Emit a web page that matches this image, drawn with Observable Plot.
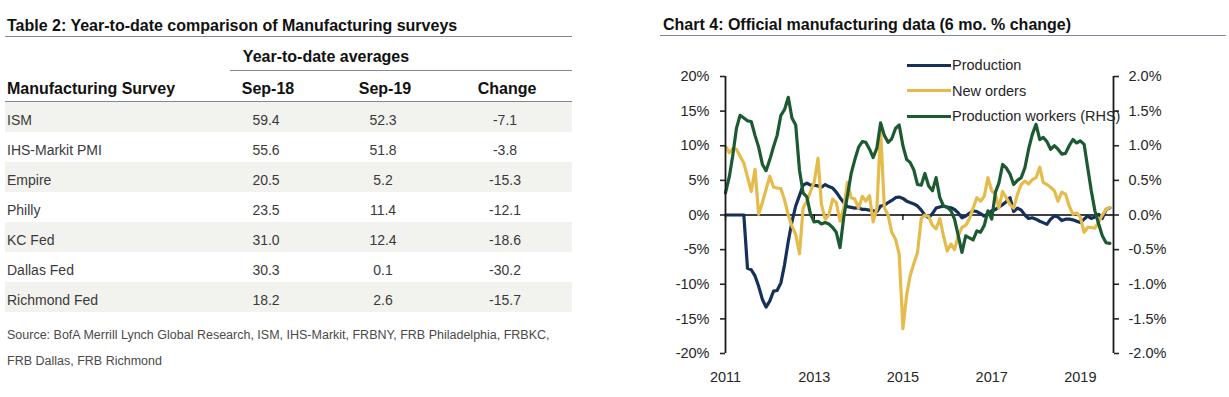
<!DOCTYPE html>
<html><head><meta charset="utf-8">
<script src="https://cdn.jsdelivr.net/npm/d3@7"></script>
<script src="https://cdn.jsdelivr.net/npm/@observablehq/plot@0.6"></script>
<style>
html,body{margin:0;padding:0;background:#fff}
#page{position:relative;width:1229px;height:397px;overflow:hidden;font-family:"Liberation Sans",Arial,sans-serif}
.abs{position:absolute;white-space:nowrap}
#chart{position:absolute;left:655px;top:40px}
</style></head><body>
<div id="page"><div id="chart"></div></div>
<script>
// ---------- Table data ----------
const tableTitle = "Table 2: Year-to-date comparison of Manufacturing surveys";
const groupHeader = "Year-to-date averages";
const columnHeaders = ["Manufacturing Survey", "Sep-18", "Sep-19", "Change"];
const surveys = ["ISM", "IHS-Markit PMI", "Empire", "Philly", "KC Fed", "Dallas Fed", "Richmond Fed"];
const sep18 = [59.4, 55.6, 20.5, 23.5, 31.0, 30.3, 18.2];
const sep19 = [52.3, 51.8, 5.2, 11.4, 12.4, 0.1, 2.6];
const change = [-7.1, -3.8, -15.3, -12.1, -18.6, -30.2, -15.7];
const sourceLines = [
  "Source: BofA Merrill Lynch Global Research, ISM, IHS-Markit, FRBNY, FRB Philadelphia, FRBKC,",
  "FRB Dallas, FRB Richmond"
];

// ---------- Chart data (monthly, Jan 2011 onward, 6 mo. % change) ----------
const chartTitle = "Chart 4: Official manufacturing data (6 mo. % change)";
const startMonth = "2011-01-01";
const seriesNames = ["Production", "New orders", "Production workers (RHS)"];
const production = [
  0, 0, 0, 0, 0, 0, -7.7, -7.9, -8.8, -10.3, -12.2, -13.3, -12.4, -11.0, -10.9, -9.8, -7.2, -3.8, -1.0, 1.3,
  2.8, 4.3, 4.6, 4.3, 4.3, 4.2, 4.0, 4.4, 4.1, 3.9, 3.3, 2.5, 1.8, 1.2, 1.1, 1.0, 1.05, 0.8, 0.8, 0.7,
  0.6, 0.5, 1.3, 1.4, 1.8, 2.1, 2.5, 2.6, 2.4, 2.0, 1.8, 1.6, 1.3, 0.7, 0.0, -0.4, 0.2, 1.0, 1.15, 1.3,
  1.15, 1.05, 0.8, 0.3, -0.4, -0.15, 0.25, 0.6, 0.5, 0.2, -0.15, 0.2, 0.6, 0.8, 1.15, 1.5, 1.9, 2.5, 0.5, 1.0,
  0.7, 0.0, -0.5, -0.4, -0.6, -0.9, -1.1, -1.35, -0.6, -0.15, -0.3, -0.8, -0.6, -0.6, -0.7, -0.9, -1.1, -0.6, -0.15, -0.5,
  -0.3, 0.1, -0.5, 0.8, 1.05
];
const newOrders = [
  9.9, 9.0, 9.6, 9.5, 8.5, 7.5, 5.5, 3.4, 6.6, 0.1, 1.8, 3.7, 5.6, 4.0, 3.9, 3.8, 2.2, 0.0, -1.6, -2.8,
  -5.6, 1.0, 2.0, 3.4, 4.8, 8.2, 1.5, -0.6, 0.0, 2.3, 1.8, -0.9, 1.0, 4.7, 2.5, 2.3, 1.0, 2.7, 2.0, 2.8,
  -1.0, 1.0, 12.3, 1.0, 0.0, -2.5, -3.5, -5.6, -16.4, -11.5, -8.8, -7.0, -5.4, -0.5, 0.0, -0.2, -1.5, -2.0, -0.5, -3.0,
  -5.2, -4.2, -5.0, -3.0, -1.8, -1.5, -0.6, 1.0, 2.5, 2.0, 2.7, 5.4, 3.5, 3.0, 1.0, 3.4, 2.5, 1.5, 1.0, 3.0,
  4.4, 4.9, 4.5, 5.1, 5.4, 6.9, 4.7, 4.4, 4.0, 3.5, 2.0, 3.3, 3.0, 1.3, 0.1, 0.3, -0.3, -2.5, -1.8, -1.8,
  -1.9, -1.0, 0.0, 0.8, 1.1
];
// right-hand scale, in %
const productionWorkers = [
  0.32, 0.55, 0.85, 1.25, 1.44, 1.40, 1.36, 1.35, 1.15, 0.98, 0.73, 0.64, 0.80, 0.99, 1.15, 1.44, 1.52, 1.70, 1.40, 1.30,
  0.65, 0.32, 0.26, 0.01, -0.10, -0.09, -0.13, -0.11, -0.13, -0.18, -0.25, -0.47, -0.03, 0.28, 0.60, 0.80, 0.98, 1.06, 1.05, 0.95,
  0.83, 0.97, 1.33, 1.15, 1.05, 1.10, 1.25, 1.30, 1.00, 0.80, 0.76, 0.65, 0.44, 0.43, 0.60, 0.42, 0.35, 0.54, 0.25, 0.13,
  0.11, 0.06, -0.06, -0.30, -0.54, -0.30, -0.33, -0.36, -0.23, -0.25, -0.15, 0.06, -0.06, 0.33, 0.46, 0.73, 0.68, 0.59, 0.44, 0.50,
  0.54, 0.68, 0.95, 1.16, 1.31, 1.09, 1.12, 1.06, 0.95, 1.00, 0.95, 0.88, 0.89, 1.00, 1.09, 1.04, 1.07, 1.02, 0.70, 0.35,
  0.06, -0.13, -0.30, -0.40, -0.41
];
const leftTicks = [-20, -15, -10, -5, 0, 5, 10, 15, 20];
const rhsFactor = 10; // RHS axis: -2.0% .. 2.0%
const yearLabels = [2011, 2013, 2015, 2017, 2019];

const colors = {production: "#15305b", orders: "#e5bb4c", workers: "#1c5a32"};

// ---------- helpers ----------
const page = document.getElementById("page");
function label(text, o) {
  const el = document.createElement("div");
  el.className = "abs";
  el.textContent = text;
  const h = 22;
  el.style.top = (o.cy - h / 2) + "px";
  el.style.height = h + "px";
  el.style.lineHeight = h + "px";
  el.style.fontSize = o.size + "px";
  el.style.fontWeight = o.bold ? "bold" : "normal";
  el.style.color = o.color || "#111";
  if (o.cx != null) {
    el.style.left = (o.cx - 150) + "px"; el.style.width = "300px"; el.style.textAlign = "center";
  } else el.style.left = o.x + "px";
  page.appendChild(el);
  return el;
}
function box(x, y, w, h, color) {
  const el = document.createElement("div");
  el.className = "abs";
  Object.assign(el.style, {left: x + "px", top: y + "px", width: w + "px", height: h + "px", background: color});
  page.appendChild(el);
  return el;
}

// ---------- Table ----------
const ruleColor = "#7d8995";
label(tableTitle, {x: 7, cy: 26, size: 16, bold: true});
box(5, 36, 567, 1, ruleColor);
label(groupHeader, {cx: 326, cy: 57, size: 16, bold: true});
box(230, 70, 342, 1, ruleColor);
const colCenters = [268, 385, 507];
label(columnHeaders[0], {x: 7, cy: 88.5, size: 16, bold: true});
columnHeaders.slice(1).forEach((h, j) => label(h, {cx: colCenters[j], cy: 88.5, size: 16, bold: true}));
box(5, 101, 567, 1, ruleColor);
surveys.forEach((s, i) => {
  if (i % 2 === 0) box(5, 102 + 30 * i, 567, 30, "#f2f2ef");
  const cy = 119.5 + 30 * i;
  const c = "#3a3a3a";
  label(s, {x: 7, cy, size: 14, color: c});
  [sep18[i], sep19[i], change[i]].forEach((v, j) => label(v.toFixed(1), {cx: colCenters[j] - 2, cy, size: 14, color: c}));
});
sourceLines.forEach((t, k) => label(t, {x: 7, cy: 335 + 26 * k, size: 12.5, color: "#4a4a4a"}));

// ---------- Chart ----------
label(chartTitle, {x: 663, cy: 25, size: 16, bold: true});
box(660, 35, 566, 1, ruleColor);

const start = new Date(startMonth);
const rows = production.map((p, i) => ({
  date: d3.utcMonth.offset(start, i),
  production: p,
  orders: newOrders[i],
  workers: productionWorkers[i]
}));
const xEnd = d3.utcMonth.offset(start, production.length);
const yMin = d3.min(leftTicks), yMax = d3.max(leftTicks);
const yearTicks = yearLabels.map(y => new Date(Date.UTC(y, 0, 1)));

const chart = Plot.plot({
  width: 574, height: 357,
  marginLeft: 70, marginRight: 116, marginTop: 36, marginBottom: 44,
  style: {fontFamily: "'Liberation Sans', Arial, sans-serif", fontSize: "14.5px", color: "#262626", background: "transparent", overflow: "visible"},
  x: {type: "utc", domain: [start, xEnd], label: null},
  y: {domain: [yMin, yMax], label: null},
  marks: [
    Plot.ruleY([0], {stroke: "#000", strokeWidth: 1.4}),
    Plot.ruleX(yearTicks, {y1: 0, y2: yMin, insetBottom: 133, stroke: "#000", strokeWidth: 1.3}),
    Plot.lineY(rows, {x: "date", y: "production", stroke: colors.production, strokeWidth: 3.2, strokeLinejoin: "round"}),
    Plot.lineY(rows, {x: "date", y: "orders", stroke: colors.orders, strokeWidth: 3.2, strokeLinejoin: "round"}),
    Plot.lineY(rows, {x: "date", y: d => d.workers * rhsFactor, stroke: colors.workers, strokeWidth: 3.2, strokeLinejoin: "round"}),
    Plot.ruleX([start], {y1: yMin, y2: yMax, stroke: "#1a1a1a", strokeWidth: 1.8}),
    Plot.ruleX([xEnd], {y1: yMin, y2: yMax, stroke: "#1a1a1a", strokeWidth: 1.8}),
    Plot.axisY({anchor: "left", ticks: leftTicks, tickFormat: d => d + "%", tickSize: 5, tickPadding: 11, strokeWidth: 1.6, label: null}),
    Plot.axisY({anchor: "right", ticks: leftTicks, tickFormat: d => (d / rhsFactor).toFixed(1) + "%", tickSize: 5, tickPadding: 10, strokeWidth: 1.6, label: null}),
    Plot.axisX({ticks: yearTicks, tickFormat: d3.utcFormat("%Y"), tickSize: 0, tickPadding: 18, label: null})
  ]
});
document.getElementById("chart").appendChild(chart);

// ---------- Legend (overlaid, as in the original) ----------
const legendColors = [colors.production, colors.orders, colors.workers];
seriesNames.forEach((name, k) => {
  const cy = 65 + 25.5 * k;
  box(907, cy - 1.5, 44, 3.2, legendColors[k]);
  label(name, {x: 952, cy, size: 14.5, color: "#262626"});
});
</script>
</body></html>
